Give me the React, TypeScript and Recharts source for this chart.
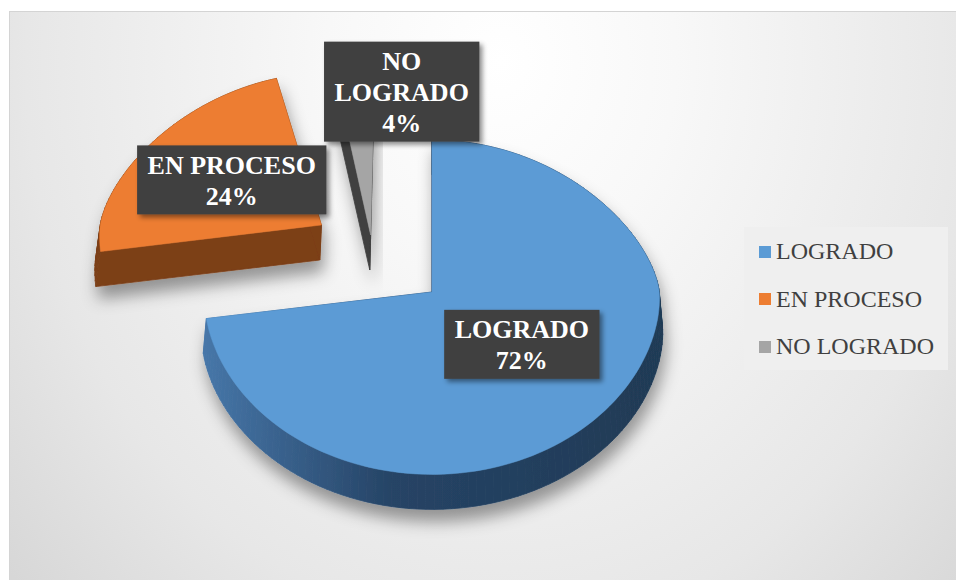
import React from 'react';
import { PieChart, Pie, Cell, Legend } from 'recharts';

const categories = ['LOGRADO', 'EN PROCESO', 'NO LOGRADO'];
const counts = [18, 6, 1];
const colors = ['#5B9BD5', '#ED7D31', '#A5A5A5'];

const data = categories.map((name, i) => ({ name, value: counts[i] }));

// 3D look: how far each slice is pulled out, side colour, horizontal squash
const EXPLODE: Record<string, [number, number]> = {
  'LOGRADO': [0, 0],
  'EN PROCESO': [-114, -67],
  'NO LOGRADO': [-63, -57],
};
const SIDES: Record<string, string> = {
  'LOGRADO': 'url(#blueSide)',
  'EN PROCESO': '#7b3f17',
  'NO LOGRADO': '#404040',
};
const SQUASH: Record<string, number> = { 'NO LOGRADO': 0.7 };
const LABEL_NUDGE: Record<string, [number, number]> = {
  'LOGRADO': [2, -2],
  'EN PROCESO': [10, -8],
  'NO LOGRADO': [47, -68],
};
const TILT_TOP = 0.667;
const TILT_BOT = 0.8;
const DEPTH = 35;
const VANISH_X = 432;
const PERSP = 0.0004;
const FONT = '"Liberation Serif", "Times New Roman", serif';

function proj(cx: number, cy: number, r: number, deg: number, sx = 1): [number, number] {
  const a = (deg * Math.PI) / 180;
  const s = Math.sin(a);
  const sy = Math.sign(s) * Math.pow(Math.abs(s), 1.15);
  return [cx + r * sx * Math.cos(a), cy - r * sy * (s > 0 ? TILT_TOP : TILT_BOT)];
}

// simple perspective: things further back (higher up) are narrower
function persp(x: number, y: number): [number, number] {
  const k = 1 + PERSP * (y - 300);
  return [VANISH_X + (x - VANISH_X) * k, y];
}

let ctx: CanvasRenderingContext2D | null = null;
function textWidth(t: string, font: string) {
  if (!ctx) ctx = document.createElement('canvas').getContext('2d');
  if (!ctx) return t.length * 16;
  ctx.font = font;
  return ctx.measureText(t).width;
}

function Slice3D(props: any) {
  const { cx, cy, outerRadius: r, startAngle, endAngle, fill } = props;
  const name = props.name ?? props.payload?.name;
  const [dx, dy] = EXPLODE[name] ?? [0, 0];
  const side = SIDES[name] ?? '#333';
  const sx = SQUASH[name] ?? 1;
  const ox = cx + dx;
  const oy = cy + dy;
  const steps = Math.max(2, Math.ceil(Math.abs(endAngle - startAngle) / 2));
  const raw: [number, number][] = [[ox, oy]];
  for (let i = 0; i <= steps; i++) {
    raw.push(proj(ox, oy, r, startAngle + ((endAngle - startAngle) * i) / steps, sx));
  }
  const topPts = raw.map((p) => persp(p[0], p[1]));
  const botPts = raw.map((p) => persp(p[0], p[1] + DEPTH));
  const top = 'M' + topPts.map((p) => `${p[0]},${p[1]}`).join('L') + 'Z';
  return (
    <g filter="url(#sliceShadow)">
      {topPts.map((p, i) => {
        const j = (i + 1) % topPts.length;
        const q = topPts[j];
        const pb = botPts[i];
        const qb = botPts[j];
        const d = `M${p[0]},${p[1]}L${q[0]},${q[1]}L${qb[0]},${qb[1]}L${pb[0]},${pb[1]}Z`;
        return <path key={i} d={d} fill={side} stroke={side} strokeWidth={0.8} />;
      })}
      <path d={top} fill={fill} stroke={fill} strokeWidth={0.5} />
    </g>
  );
}

function renderLabel(props: any) {
  const { cx, cy, midAngle, outerRadius, percent } = props;
  const name = props.name ?? props.payload?.name;
  const [dx, dy] = EXPLODE[name] ?? [0, 0];
  const [nx, ny] = LABEL_NUDGE[name] ?? [0, 0];
  const [px, py] = proj(cx + dx, cy + dy, outerRadius * 0.5, midAngle);
  const pct = `${Math.round(percent * 100)}%`;
  const lines = percent < 0.1 ? [...name.split(' '), pct] : [name, pct];
  const font = `bold 26px ${FONT}`;
  const w = Math.max(...lines.map((l: string) => textWidth(l, font))) + 21;
  const lh = 31;
  const h = lines.length * lh + 7;
  const x0 = px + nx - w / 2;
  const y0 = py + ny - h / 2;
  return (
    <g key={name}>
      <rect x={x0} y={y0} width={w} height={h} fill="#404040" filter="url(#labelShadow)" />
      {lines.map((l: string, i: number) => (
        <text
          key={i}
          x={x0 + w / 2}
          y={y0 + 4.5 + lh * i + lh / 2}
          textAnchor="middle"
          dominantBaseline="central"
          fill="#ffffff"
          fontFamily={FONT}
          fontWeight="bold"
          fontSize={26}
        >
          {l}
        </text>
      ))}
    </g>
  );
}

function renderLegend() {
  return (
    <div style={{ background: '#efefef', width: 204, height: 143, boxSizing: 'border-box', paddingTop: 1 }}>
      {categories.map((c, i) => (
        <div key={c} style={{ display: 'flex', alignItems: 'center', height: 47.5 }}>
          <span style={{ display: 'inline-block', width: 12, height: 12, background: colors[i], marginLeft: 15, marginRight: 5 }} />
          <span style={{ fontFamily: FONT, fontSize: 24, color: '#404040', whiteSpace: 'nowrap' }}>{c}</span>
        </div>
      ))}
    </div>
  );
}

export default function App() {
  return (
    <div style={{ position: 'absolute', left: 0, top: 0, width: 956, height: 580, overflow: 'hidden', background: '#ffffff' }}>
      <div
        style={{
          position: 'absolute',
          left: 9,
          top: 11,
          width: 960,
          height: 580,
          border: '1px solid #d4d4d4',
          background:
            'radial-gradient(ellipse 500px 600px at 491px 50px, #ffffff 0%, #f8f8f8 35%, #e7e7e7 95%, #d7d7d7 130%)',
        }}
      />
      <div style={{ position: 'absolute', left: 0, top: 0 }}>
        <PieChart width={956} height={580} margin={{ top: 0, right: 0, bottom: 0, left: 0 }}>
          <defs>
            <linearGradient id="blueSide" x1="205" y1="0" x2="665" y2="0" gradientUnits="userSpaceOnUse">
              <stop offset="0%" stopColor="#4676a8" />
              <stop offset="40%" stopColor="#264466" />
              <stop offset="100%" stopColor="#1f3a55" />
            </linearGradient>
            <filter id="sliceShadow" x="-20%" y="-20%" width="140%" height="160%">
              <feDropShadow dx="3" dy="12" stdDeviation="8" floodColor="#000000" floodOpacity="0.38" />
            </filter>
            <filter id="labelShadow" x="-20%" y="-20%" width="140%" height="160%">
              <feDropShadow dx="3" dy="3" stdDeviation="2.5" floodColor="#000000" floodOpacity="0.45" />
            </filter>
          </defs>
          <Pie
            data={data}
            dataKey="value"
            nameKey="name"
            cx={432}
            cy={292}
            outerRadius={228}
            startAngle={90}
            endAngle={-270}
            stroke="none"
            isAnimationActive={false}
            labelLine={false}
            label={renderLabel}
            shape={Slice3D}
            activeShape={Slice3D}
            inactiveShape={Slice3D}
          >
            {data.map((d, i) => (
              <Cell key={d.name} fill={colors[i]} />
            ))}
          </Pie>
          <Legend
            layout="vertical"
            align="right"
            verticalAlign="middle"
            content={renderLegend}
            wrapperStyle={{ position: 'absolute', left: 744, top: 227, width: 204, height: 143 }}
          />
        </PieChart>
      </div>
    </div>
  );
}
